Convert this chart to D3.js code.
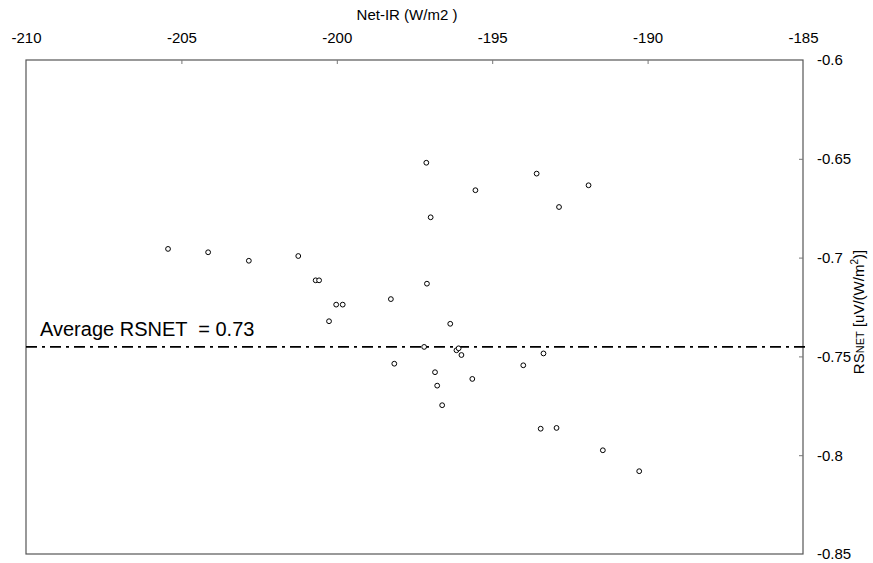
<!DOCTYPE html>
<html><head><meta charset="utf-8">
<script src="https://cdn.jsdelivr.net/npm/d3@7"></script>
<style>body{margin:0;background:#fff}svg{display:block}text{font-family:"Liberation Sans",Arial,sans-serif}</style>
</head><body><svg id="c" width="873" height="563"></svg>
<script>
const netIR = [-205.43,-204.14,-202.83,-201.24,-200.68,-200.57,-200.02,-199.81,-200.25,-198.26,
  -197.12,-196.98,-197.10,-197.19,-198.15,-196.84,-196.77,-196.61,-193.57,-191.90,
  -195.54,-192.85,-196.35,-196.15,-196.08,-195.99,-193.35,-194.00,-195.64,-193.44,
  -192.93,-191.44,-190.27];
const rsnet = [-0.6956,-0.6973,-0.7016,-0.6992,-0.7115,-0.7115,-0.7238,-0.7238,-0.7322,-0.7210,
  -0.6520,-0.6796,-0.7132,-0.7452,-0.7537,-0.7580,-0.7648,-0.7747,-0.6575,-0.6634,
  -0.6659,-0.6744,-0.7335,-0.7469,-0.7459,-0.7493,-0.7485,-0.7545,-0.7614,-0.7866,
  -0.7862,-0.7975,-0.8081];
const xTicks = [-210,-205,-200,-195,-190,-185];
const yTicks = [-0.6,-0.65,-0.7,-0.75,-0.8,-0.85];
const averageLine = -0.7452;
const averageLabel = "Average RSNET  = 0.73";

const svg = d3.select("#c");
const L=26, R=803, T=60, B=554;
const x = d3.scaleLinear().domain([-210,-185]).range([L,R]);
const y = d3.scaleLinear().domain([-0.6,-0.85]).range([T,B]);

svg.append("rect").attr("x",L).attr("y",T).attr("width",R-L).attr("height",B-T)
  .attr("fill","none").attr("stroke","#555").attr("stroke-width",1.2);

const xa = svg.append("g").attr("transform",`translate(0,${T})`)
  .call(d3.axisBottom(x).tickValues(xTicks).tickSize(4).tickFormat(d=>String(d)));
xa.select(".domain").remove();
xa.selectAll(".tick line").attr("stroke","#777");
xa.selectAll(".tick text").attr("y",-17).attr("dy",0).attr("font-size",15).attr("fill","#000");
xa.selectAll(".tick").filter(d=>d===-210||d===-185).select("line").remove();

const ya = svg.append("g").attr("transform",`translate(${R},0)`)
  .call(d3.axisLeft(y).tickValues(yTicks).tickSize(4).tickFormat(d=>String(d)));
ya.select(".domain").remove();
ya.selectAll(".tick line").attr("stroke","#777");
ya.selectAll(".tick text").attr("x",14).attr("text-anchor","start").attr("font-size",15).attr("fill","#000");
ya.selectAll(".tick").filter(d=>d===-0.6||d===-0.85).select("line").remove();

svg.append("text").attr("x",407).attr("y",20).attr("text-anchor","middle")
  .attr("font-size",15).text("Net-IR (W/m2 )");

const yl = svg.append("text").attr("transform","translate(864,312) rotate(-90)")
  .attr("text-anchor","middle").attr("font-size",15);
yl.append("tspan").text("RS");
yl.append("tspan").attr("font-size",11).text("NET");
yl.append("tspan").text(" [uV/(W/m");
yl.append("tspan").attr("font-size",10).attr("dy",-6).text("2");
yl.append("tspan").attr("dy",6).text(")]");

svg.append("line").attr("x1",L).attr("x2",R+2).attr("y1",y(averageLine)).attr("y2",y(averageLine))
  .attr("stroke","#000").attr("stroke-width",1.8).attr("stroke-dasharray","11,5,3,5");

svg.append("text").attr("x",40).attr("y",336).attr("font-size",20).attr("xml:space","preserve")
  .style("white-space","pre").text(averageLabel);

svg.append("g").selectAll("circle").data(netIR.map((v,i)=>[v,rsnet[i]])).join("circle")
  .attr("cx",d=>x(d[0])).attr("cy",d=>y(d[1])).attr("r",2.4)
  .attr("fill","#fff").attr("stroke","#000").attr("stroke-width",1);
</script></body></html>
